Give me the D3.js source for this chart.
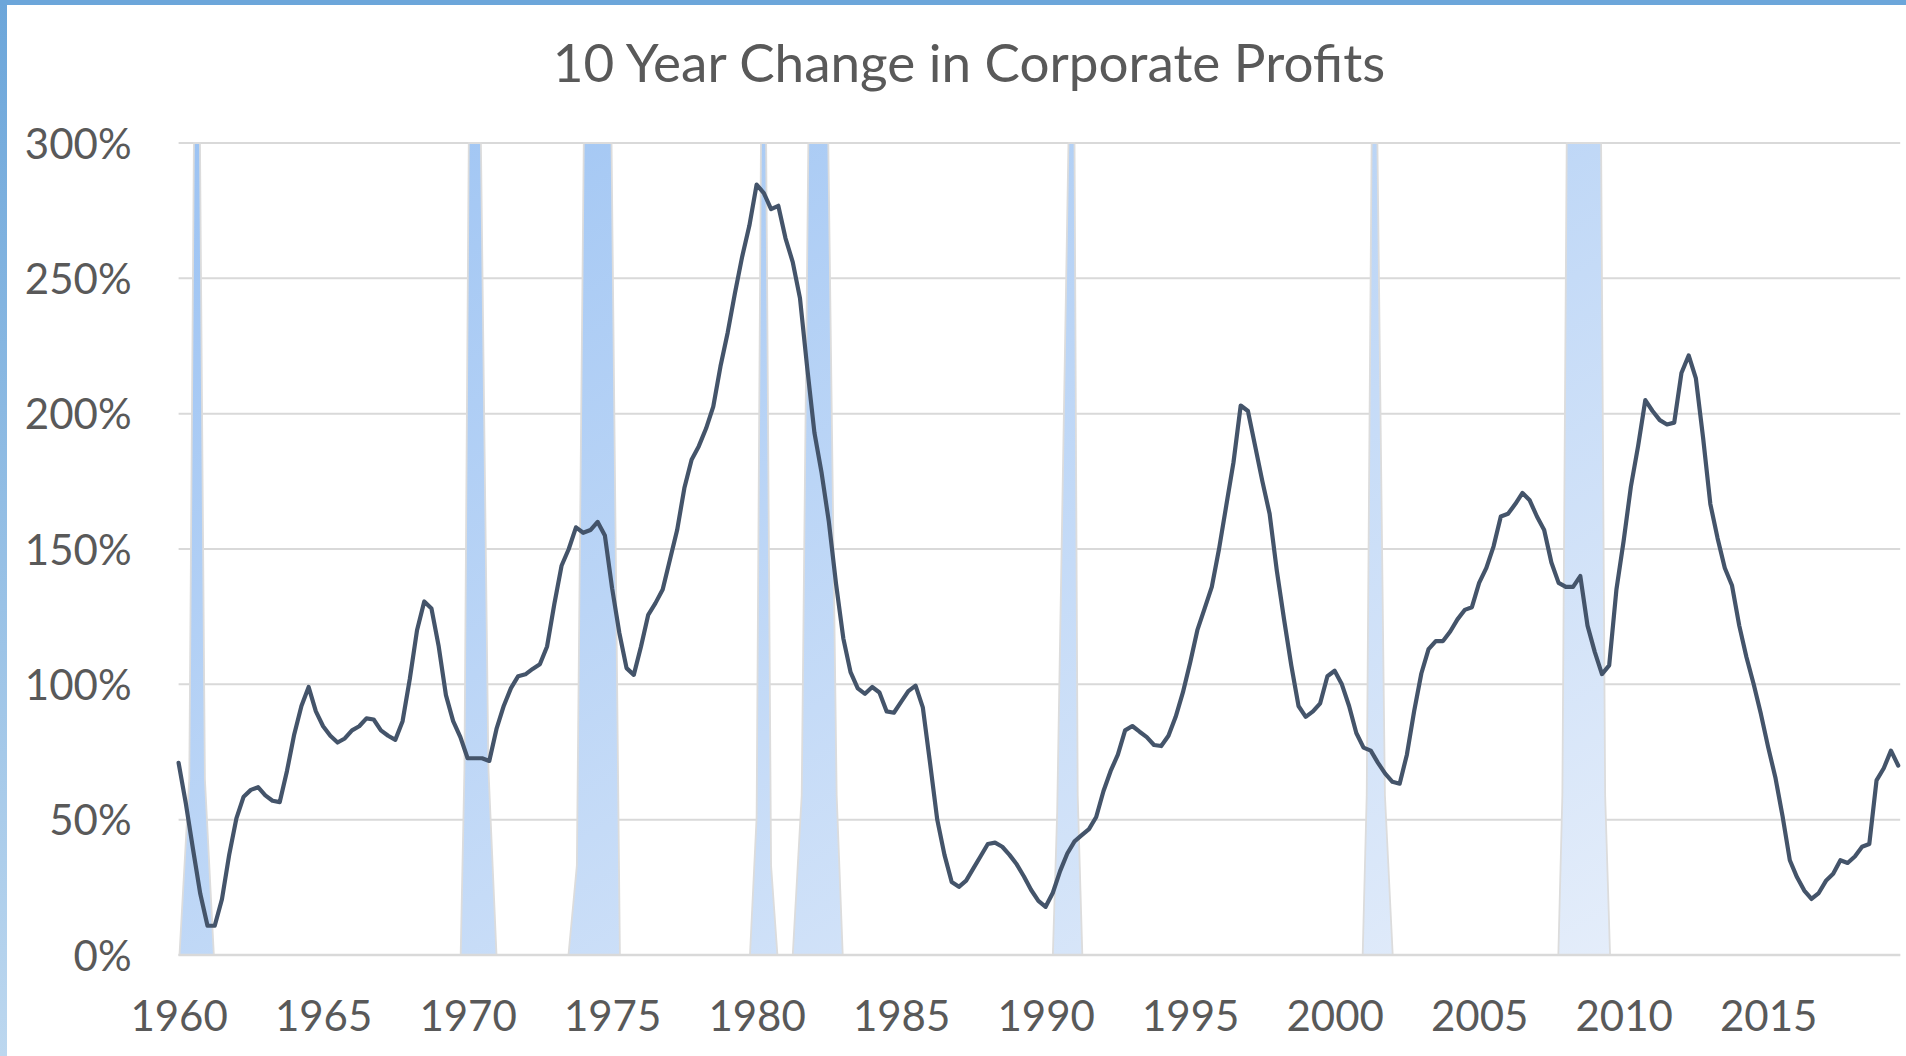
<!DOCTYPE html>
<html>
<head>
<meta charset="utf-8">
<script src="https://cdn.jsdelivr.net/npm/d3@7"></script>
<style>
  html, body { margin: 0; padding: 0; background: #fff; }
  svg { display: block; }
</style>
</head>
<body>
<div id="chart"></div>
<script>
// quarterly series, first point = 1960 Q1
const startYear = 1960
const profitChange = [
  71, 56, 39, 22.6,
  10.8, 10.8, 20.6, 37,
  50.5, 58.5, 61, 62,
  59, 57, 56.5, 68,
  81.5, 92, 99, 90,
  84.5, 81, 78.5, 80,
  83, 84.5, 87.4, 87,
  83, 81, 79.5, 86.4,
  102, 120, 130.6, 128,
  114, 96, 86.4, 80.5,
  72.7, 72.7, 72.7, 71.7,
  83.5, 92, 98.6, 103,
  103.7, 105.7, 107.4, 114,
  129.6, 143.8, 150, 158,
  156, 157, 160, 155,
  135.5, 119, 106, 103.5,
  114, 125.7, 130, 135,
  146, 157, 172.5, 183,
  188, 194.5, 202.6, 217.5,
  230, 244.5, 258, 269.5,
  284.6, 281.5, 275.6, 276.8,
  264.8, 256, 242.7, 217,
  193, 178, 160, 137,
  117, 104.5, 98.5, 96.5,
  99, 97, 90, 89.5,
  93.5, 97.5, 99.5, 91.5,
  71, 50, 37, 27,
  25.2, 27.5, 32, 36.5,
  41, 41.5, 40, 37,
  33.5, 29, 24, 20,
  17.8, 23, 31, 37.5,
  42, 44.3, 46.5, 51,
  60.5, 68, 74, 83,
  84.6, 82.5, 80.5, 77.6,
  77.2, 81, 88, 97,
  108, 120, 128, 136,
  150, 166, 182, 203,
  201, 188, 175, 163,
  142, 124, 107, 92,
  88, 90, 93, 103,
  105, 100, 92, 82,
  76.6, 75.5, 71, 67,
  64, 63.3, 74, 90,
  104, 113, 116, 116,
  119.5, 124, 127.5, 128.5,
  137.5, 143, 151, 162,
  163, 166.6, 170.7, 168,
  162, 157, 145, 137.5,
  136, 136, 140, 121.7,
  112, 103.8, 107, 135,
  153, 173, 188, 205,
  201, 197.6, 196, 196.7,
  215, 221.5, 213, 191,
  166.6, 154, 143, 136.5,
  121.7, 110, 100, 89,
  76.8, 65.6, 51.2, 35,
  28.7, 23.8, 20.7, 22.9,
  27.4, 30, 35, 34,
  36.4, 40, 41, 64.5,
  69, 75.5, 70
]

// recession shading outline, [year, percent]
const recessionShape = [
  [1960.03, 0], [1960.37, 65], [1960.53, 300], [1960.74, 300], [1960.91, 65], [1961.22, 0],
  [1969.76, 0], [1969.89, 69], [1970.04, 300], [1970.46, 300], [1970.72, 69], [1971.0, 0],
  [1973.49, 0], [1973.78, 33], [1974.02, 300], [1974.98, 300], [1975.27, 0],
  [1979.77, 0], [1980.0, 51], [1980.15, 300], [1980.33, 300], [1980.5, 33], [1980.72, 0],
  [1981.25, 0], [1981.56, 59], [1981.79, 300], [1982.48, 300], [1982.77, 59], [1982.98, 0],
  [1990.25, 0], [1990.4, 53], [1990.79, 300], [1991.0, 300], [1991.11, 59], [1991.27, 0],
  [2000.97, 0], [2001.11, 59], [2001.28, 300], [2001.48, 300], [2001.74, 59], [2002.01, 0],
  [2007.74, 0], [2007.88, 59], [2008.03, 300], [2009.22, 300], [2009.36, 59], [2009.53, 0]
]

const yTicks = [0, 50, 100, 150, 200, 250, 300]
const xTicks = [1960, 1965, 1970, 1975, 1980, 1985, 1990, 1995, 2000, 2005, 2010, 2015]
const title = '10 Year Change in Corporate Profits'

const WIDTH = 1906
const HEIGHT = 1056
const PLOT = { LEFT: 178.6, RIGHT: 1898.2, TOP: 143, BOTTOM: 955 }
const FONT = 'Lato, "Open Sans", sans-serif'
const TEXT_COLOR = '#595959'

const data = profitChange.map((v, i) => ({ year: startYear + i / 4, value: v }))

const x = d3.scaleLinear()
  .domain([startYear, d3.max(data, d => d.year)])
  .range([PLOT.LEFT, PLOT.RIGHT])

const y = d3.scaleLinear()
  .domain([0, 300])
  .range([PLOT.BOTTOM, PLOT.TOP])

const svg = d3.select('#chart')
  .append('svg')
  .attr('width', WIDTH)
  .attr('height', HEIGHT)

const defs = svg.append('defs')

const bandGrad = defs.append('linearGradient')
  .attr('id', 'bandGrad')
  .attr('x1', 0).attr('y1', 0).attr('x2', 1).attr('y2', 1)
bandGrad.append('stop').attr('offset', '0%').attr('stop-color', '#9cc3f3')
bandGrad.append('stop').attr('offset', '100%').attr('stop-color', '#e4edfa')

const borderGrad = defs.append('linearGradient')
  .attr('id', 'borderGrad')
  .attr('x1', 0).attr('y1', 0).attr('x2', 0).attr('y2', 1)
borderGrad.append('stop').attr('offset', '0%').attr('stop-color', '#6ca6da')
borderGrad.append('stop').attr('offset', '100%').attr('stop-color', '#bcd7ef')

// frame
svg.append('rect')
  .attr('x', 0).attr('y', 0)
  .attr('width', 7).attr('height', HEIGHT)
  .attr('fill', 'url(#borderGrad)')
svg.append('rect')
  .attr('x', 0).attr('y', 0)
  .attr('width', WIDTH).attr('height', 5)
  .attr('fill', '#6ca6da')

// title
svg.append('text')
  .attr('x', 969)
  .attr('y', 82)
  .attr('text-anchor', 'middle')
  .style('font-family', FONT)
  .style('font-size', '53px')
  .style('fill', TEXT_COLOR)
  .text(title)

// gridlines
svg.append('g')
  .selectAll('line')
  .data(yTicks)
  .join('line')
  .attr('x1', PLOT.LEFT)
  .attr('x2', PLOT.RIGHT + 2)
  .attr('y1', d => y(d))
  .attr('y2', d => y(d))
  .attr('stroke', '#d9d9d9')
  .attr('stroke-width', 2)

// recession bands
const area = d3.area()
  .x(d => x(d[0]))
  .y0(y(0))
  .y1(d => y(d[1]))

svg.append('path')
  .datum(recessionShape)
  .attr('d', area)
  .attr('fill', 'url(#bandGrad)')
  .attr('stroke', '#dcdcdc')
  .attr('stroke-width', 1.8)
  .attr('stroke-linejoin', 'round')

// y axis
const yAxis = svg.append('g')
  .attr('transform', `translate(${PLOT.LEFT}, 0)`)
  .call(d3.axisLeft(y).tickValues(yTicks).tickSize(0).tickPadding(47).tickFormat(d => d + '%'))
yAxis.select('.domain').remove()
yAxis.selectAll('text')
  .attr('dy', '0.36em')
  .style('font-family', FONT)
  .style('font-size', '42px')
  .style('fill', TEXT_COLOR)

// x axis
const xAxis = svg.append('g')
  .attr('transform', `translate(0, ${PLOT.BOTTOM})`)
  .call(d3.axisBottom(x).tickValues(xTicks).tickSize(0).tickFormat(d3.format('d')))
xAxis.select('.domain')
  .attr('stroke', '#d9d9d9')
  .attr('stroke-width', 2.5)
  .attr('d', `M${PLOT.LEFT},0H${PLOT.RIGHT + 2}`)
xAxis.selectAll('text')
  .attr('y', 76)
  .attr('dy', null)
  .style('font-family', FONT)
  .style('font-size', '42px')
  .style('fill', TEXT_COLOR)

// profit line
const line = d3.line()
  .x(d => x(d.year))
  .y(d => y(d.value))

svg.append('path')
  .datum(data)
  .attr('d', line)
  .attr('fill', 'none')
  .attr('stroke', '#44546a')
  .attr('stroke-width', 4.2)
  .attr('stroke-linejoin', 'round')
  .attr('stroke-linecap', 'round')
</script>
</body>
</html>
